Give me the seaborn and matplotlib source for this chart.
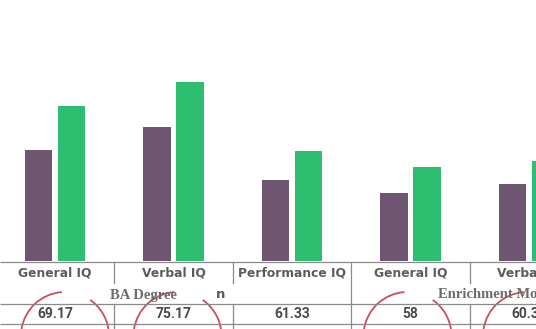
import matplotlib
matplotlib.use("Agg")
import matplotlib.pyplot as plt
import seaborn as sns
import pandas as pd
from matplotlib.patches import Arc

# ---- data ----
tests = ["General IQ", "Verbal IQ", "Performance IQ", "General IQ", "Verbal IQ"]
programs = ["BA Degree", "BA Degree", "BA Degree", "Enrichment Model", "Enrichment Model"]
series_a = [69.17, 75.17, 61.33, 58.00, 60.33]   # purple bars (table values)
series_b = [80.5, 86.9, 69.0, 64.7, 66.4]        # green bars
series_names = ["Pre", "Post"]
table_row = ["69.17", "75.17", "61.33", "58", "60.33"]
circled = [0, 1, 3, 4]

keys = [f"{p}|{t}|{i}" for i, (p, t) in enumerate(zip(programs, tests))]
df = pd.DataFrame({
    "key": keys * 2,
    "score": series_a + series_b,
    "series": [series_names[0]] * 5 + [series_names[1]] * 5,
})

W, H = 536, 329
fig = plt.figure(figsize=(W / 100, H / 100), dpi=100)
fig.patch.set_facecolor("white")

base_px = 261
ax = fig.add_axes([0, 1 - base_px / H, 1, base_px / H])
sns.barplot(data=df, x="key", y="score", hue="series", order=keys,
            palette=["#6e5670", "#2ebe70"], width=0.557, gap=0.18,
            legend=False, ax=ax, saturation=1, errorbar=None)
ax.set_xlim(-0.464, 4.059)
ax.set_ylim(40.5, 108)
ax.axis("off")

# ---- table overlay ----
ov = fig.add_axes([0, 0, 1, 1], zorder=5)
ov.set_xlim(0, W)
ov.set_ylim(H, 0)
ov.axis("off")

fig.canvas.draw()
def col_x(i):
    disp = ax.transData.transform((i, 0))
    return ov.transData.inverted().transform(disp)[0]

centers = [col_x(i) for i in range(len(tests))]
half = (centers[1] - centers[0]) / 2
line_c = "#8a8a8a"
lw = 0.9

# horizontal lines
for y in [262, 303.5, 324]:
    ov.plot([0, W], [y, y], color=line_c, lw=lw, solid_capstyle="butt")
# vertical separators
for i in range(len(tests) - 1):
    x = centers[i] + half
    if programs[i] != programs[i + 1]:
        ov.plot([x, x], [262, H], color=line_c, lw=lw)
    else:
        ov.plot([x, x], [262, 283], color=line_c, lw=lw)
        ov.plot([x, x], [303.5, H], color=line_c, lw=lw)

hdr_font = dict(family="DejaVu Sans", weight="bold", size=8.8, color="#5c5c5c")
for c, t in zip(centers, tests):
    ov.text(c, 272.5, t, ha="center", va="center", **hdr_font)

for c, v in zip(centers, table_row):
    ov.text(c, 314, v, ha="center", va="center", family="Roboto",
            weight="bold", size=10, color="#4a4a4a")

ov.text(144, 295, "BA Degree", ha="center", va="center", family="Liberation Serif",
        weight="bold", size=10.5, color="#6c6c6c")
ov.text(221, 294, "n", ha="center", va="center", family="DejaVu Sans",
        weight="bold", size=9.5, color="#5c5c5c")
ov.text(438, 295, "Enrichment Model", ha="left", va="center", family="Liberation Serif",
        weight="bold", size=10.5, color="#6c6c6c")

# hand-drawn red circles around values
red = "#c8505a"
offsets = {0: 10, 1: 4, 3: -3, 4: -2}
for i in circled:
    cx = centers[i] + offsets[i]
    ov.add_patch(Arc((cx, 336), 88, 88, theta1=189, theta2=266, color=red, lw=1.3))
    ov.add_patch(Arc((cx, 336), 88, 88, theta1=305, theta2=352, color=red, lw=1.3))

fig.savefig("out.png", dpi=100, facecolor="white")
